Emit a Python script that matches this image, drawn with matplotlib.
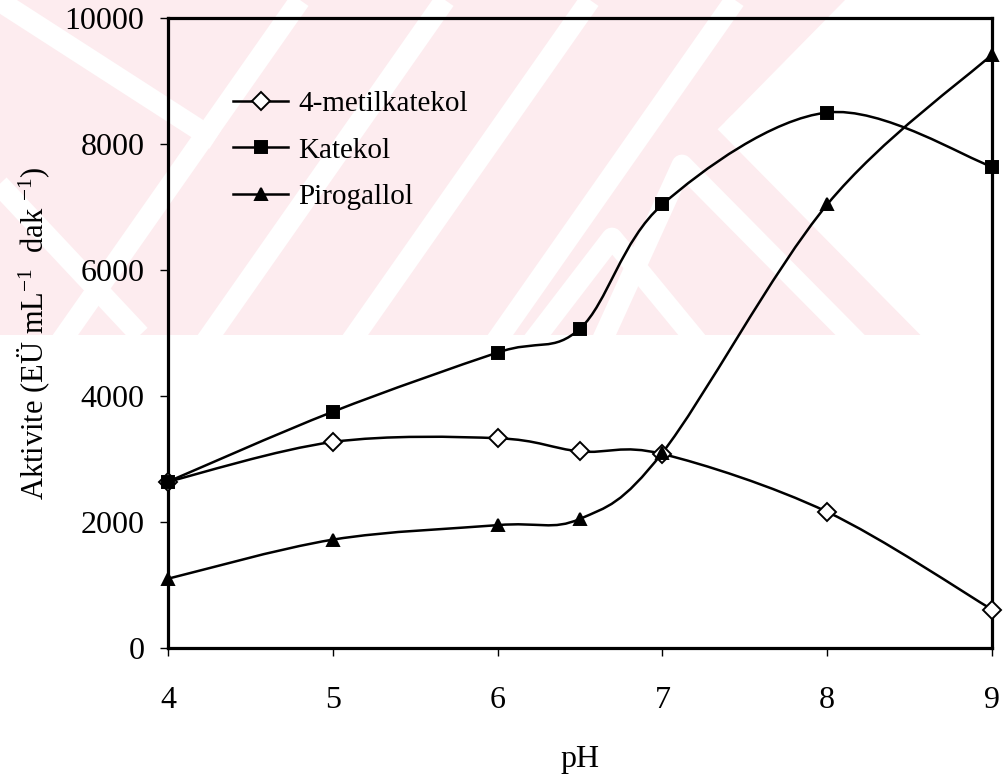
import matplotlib
matplotlib.use("Agg")
import matplotlib.pyplot as plt
from matplotlib.path import Path
from matplotlib.patches import PathPatch, Polygon
from matplotlib.lines import Line2D

plt.rcParams["font.family"] = ["Liberation Serif", "DejaVu Serif"]
plt.rcParams["mathtext.fontset"] = "custom"
plt.rcParams["mathtext.rm"] = "Liberation Serif"
plt.rcParams["mathtext.default"] = "regular"

# ── data ─────────────────────────────────────────────────────────────────────
ph = [4, 5, 6, 6.5, 7, 8, 9]
metilkatekol = [2640, 3270, 3330, 3120, 3080, 2160, 610]
katekol = [2640, 3750, 4690, 5070, 7040, 8500, 7640]
pirogallol = [1100, 1720, 1950, 2050, 3100, 7040, 9420]

series_names = ["4-metilkatekol", "Katekol", "Pirogallol"]
series_values = [metilkatekol, katekol, pirogallol]
markers = ["D", "s", "^"]
marker_sizes = [9, 8, 9]
facecols = ["white", "black", "black"]

x_ticks = [4, 5, 6, 7, 8, 9]
y_ticks = [0, 2000, 4000, 6000, 8000, 10000]

W, H = 1006, 775
fig = plt.figure(figsize=(W / 100, H / 100), dpi=100, facecolor="white")

# ── faint pink watermark in the upper band (scan artefact) ────────────────────
bg = fig.add_axes([0, 1 - 335 / H, 1, 335 / H], zorder=-5)
bg.set_xlim(0, W)
bg.set_ylim(335, 0)
bg.axis("off")
pink = "#fdecef"
bg.add_patch(Polygon([(0, 0), (845, 0), (725, 122), (940, 335), (0, 335)],
                     closed=True, color=pink, lw=0))
stripe = dict(color="white", lw=15, solid_capstyle="butt")
# "/" stripes in the middle
for x0 in [300, 445, 590, 735]:
    bg.plot([x0, x0 - 250], [0, 357], **stripe)
# "\" stripes on the left
bg.plot([-10, 215], [-5, 140], **stripe)
bg.plot([-10, 140], [175, 335], **stripe)
# chevrons near the bottom
bg.plot([530, 612, 700], [345, 238, 345], **stripe)
bg.plot([600, 682, 860], [345, 165, 345], **stripe)
bg.plot([725, 940], [122, 340], **stripe)

# ── main axes ─────────────────────────────────────────────────────────────────
ax = fig.add_axes([168 / W, 1 - 648 / H, (992 - 168) / W, (648 - 18) / H])
ax.set_facecolor("none")


def smooth_path(xs, ys):
    # Bezier curve through the points (Catmull-Rom style, like Excel's smoothing)
    pts = list(zip(xs, ys))
    n = len(pts)
    verts = [pts[0]]
    codes = [Path.MOVETO]
    for i in range(n - 1):
        p0 = pts[i - 1] if i > 0 else pts[i]
        p1 = pts[i]
        p2 = pts[i + 1]
        p3 = pts[i + 2] if i + 2 < n else pts[i + 1]
        c1 = (p1[0] + (p2[0] - p0[0]) / 6, p1[1] + (p2[1] - p0[1]) / 6)
        c2 = (p2[0] - (p3[0] - p1[0]) / 6, p2[1] - (p3[1] - p1[1]) / 6)
        verts += [c1, c2, p2]
        codes += [Path.CURVE4] * 3
    return Path(verts, codes)


handles = []
for name, vals, m, ms, fc in zip(series_names, series_values, markers,
                                 marker_sizes, facecols):
    ax.add_patch(PathPatch(smooth_path(ph, vals), fill=False, ec="black",
                           lw=1.8, zorder=3, clip_on=False))
    ax.plot(ph, vals, ls="none", marker=m, ms=ms, mfc=fc, mec="black",
            mew=1.4, zorder=4, clip_on=False)
    handles.append(Line2D([], [], color="black", lw=1.8, marker=m, ms=ms,
                          mfc=fc, mec="black", mew=1.4, label=name))

ax.set_xlim(4, 9)
ax.set_ylim(0, 10000)
ax.set_xticks(x_ticks)
ax.set_xticklabels([str(v) for v in x_ticks])
ax.set_yticks(y_ticks)
ax.set_yticklabels([str(v) for v in y_ticks])
ax.tick_params(axis="both", direction="out", length=6, width=1.0,
               labelsize=23, colors="black")
ax.tick_params(axis="x", pad=21)
ax.tick_params(axis="y", pad=11)
ax.tick_params(top=False, right=False)
for s in ax.spines.values():
    s.set_linewidth(2.3)
    s.set_color("black")

ax.set_xlabel("pH", fontsize=23, labelpad=22)
ax.set_ylabel(r"Aktivite (EÜ mL$^{-1}$  dak $^{-1}$)", fontsize=22,
              labelpad=9)

fig.legend(handles=handles, loc="upper left",
           bbox_to_anchor=(233 / W, 1 - 91 / H), frameon=False,
           fontsize=21, handlelength=1.9, handletextpad=0.35,
           labelspacing=0.68, borderpad=0, borderaxespad=0)

fig.savefig("out.png", dpi=100, facecolor="white")
